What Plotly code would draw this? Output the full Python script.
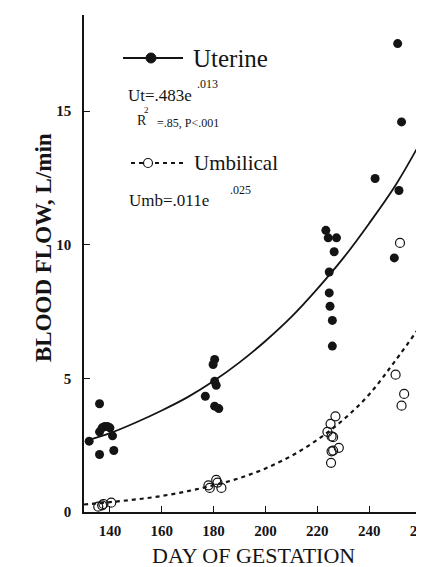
import plotly.graph_objects as go

# ---- data ----
ut_day = [132, 136, 136, 137, 138, 139, 140, 141, 136, 141.5,
          180.4, 179.8, 180.4, 181, 176.8, 180.4, 182,
          223.3, 224.2, 227.4, 226.5, 224.6, 224.6, 224.9, 225.8, 225.8,
          242.3, 251.5, 249.7, 251, 252.5]
ut_flow = [2.65, 4.05, 3.0, 3.15, 3.2, 3.2, 3.15, 2.85, 2.15, 2.3,
           5.71, 5.52, 4.89, 4.74, 4.33, 3.96, 3.87,
           10.54, 10.26, 10.26, 9.74, 8.98, 8.2, 7.7, 7.17, 6.21,
           12.48, 12.03, 9.51, 17.53, 14.6]

umb_day = [135.5, 137, 137.5, 140.5,
           181, 178, 181.5, 183, 178.5,
           227, 225.1, 223.9, 225.5, 226.1, 228.3, 225.5, 226.1, 225.3,
           250.2, 253.5, 252.5, 251.9]
umb_flow = [0.2, 0.25, 0.3, 0.35,
            1.2, 1.0, 1.1, 0.9, 0.9,
            3.58, 3.3, 3.0, 2.83, 2.8, 2.4, 2.27, 2.3, 1.84,
            5.14, 4.42, 3.98, 10.07]

ut_fit_day = [132, 140, 150, 160, 170, 180, 190, 200, 210, 220, 230, 240, 250, 259]
ut_fit_flow = [2.7, 2.95, 3.35, 3.8, 4.3, 4.9, 5.6, 6.4, 7.3, 8.35, 9.5, 10.8, 12.2, 13.7]

umb_fit_day = [130, 140, 150, 160, 170, 180, 190, 200, 210, 220, 230, 240, 250, 260]
umb_fit_flow = [0.28, 0.37, 0.47, 0.6, 0.78, 1.0, 1.27, 1.63, 2.1, 2.7, 3.45, 4.4, 5.65, 7.0]

x_ticks = [140, 160, 180, 200, 220, 240, 260]
y_ticks = [0, 5, 10, 15]

INK = "#141414"
SERIF = "Liberation Serif, Times New Roman, DejaVu Serif, serif"

fig = go.Figure()
fig.add_trace(go.Scatter(x=umb_fit_day, y=umb_fit_flow, mode="lines", line_shape="spline",
                         line=dict(color=INK, width=2.2, dash="4px,4px"), hoverinfo="skip"))
fig.add_trace(go.Scatter(x=ut_fit_day, y=ut_fit_flow, mode="lines", line_shape="spline",
                         line=dict(color=INK, width=1.8), hoverinfo="skip"))
fig.add_trace(go.Scatter(x=umb_day, y=umb_flow, mode="markers", name="Umbilical",
                         marker=dict(symbol="circle-open", size=9, color=INK, line=dict(width=1.2))))
fig.add_trace(go.Scatter(x=ut_day, y=ut_flow, mode="markers", name="Uterine",
                         marker=dict(symbol="circle", size=9, color=INK)))

L, R, T, B = 76, 11, 7, 63
W, H = 424, 567
PW, PH = W - L - R, H - T - B


def px(x):
    return (x - L) / PW


def py(y):
    return (H - B - y) / PH


shapes = [
    dict(type="line", xref="paper", yref="paper", x0=px(115), x1=px(175), y0=py(50), y1=py(50),
         line=dict(color=INK, width=1.8)),
    dict(type="circle", xref="paper", yref="paper", x0=px(138), x1=px(148), y0=py(45), y1=py(55),
         fillcolor=INK, line=dict(color=INK, width=1)),
    dict(type="line", xref="paper", yref="paper", x0=px(123), x1=px(176), y0=py(155), y1=py(155),
         line=dict(color=INK, width=2, dash="4px,4px")),
    dict(type="circle", xref="paper", yref="paper", x0=px(135.5), x1=px(144.5), y0=py(150.5), y1=py(159.5),
         fillcolor="white", line=dict(color=INK, width=1.2)),
]


def ann(text, x, y, size, **kw):
    d = dict(text=text, xref="paper", yref="paper", x=px(x), y=py(y), xanchor="left", yanchor="middle",
             showarrow=False, borderpad=0, font=dict(family=SERIF, size=size, color=INK))
    d.update(kw)
    return d


annotations = [
    ann("Uterine", 184, 50, 25),
    ann("Ut=.483e", 119, 88, 17),
    ann(".013", 188, 76, 12),
    ann("R", 128, 113, 14),
    ann("2", 135, 102, 9),
    ann("=.85, P<.001", 148, 115, 12),
    ann("Umbilical", 185, 155, 21),
    ann("Umb=.011e", 120, 192, 17),
    ann(".025", 221, 182, 12),
    dict(text="<b>BLOOD FLOW, L/min</b>", xref="paper", yref="paper", x=px(36), y=py(240),
         xanchor="center", yanchor="middle", textangle=-90, showarrow=False,
         font=dict(family=SERIF, size=23, color=INK)),
    dict(text="DAY OF GESTATION", xref="paper", yref="paper", x=px(245), y=py(547),
         xanchor="center", yanchor="middle", showarrow=False,
         font=dict(family=SERIF, size=22, color=INK)),
]

tickfont = dict(family=SERIF, size=15, color=INK, weight="bold")

fig.update_layout(
    width=W, height=H, template="none",
    margin=dict(l=L, r=R, t=T, b=B, autoexpand=False),
    paper_bgcolor="white", plot_bgcolor="white",
    showlegend=False,
    shapes=shapes, annotations=annotations,
    xaxis=dict(range=[130, 260], tickvals=x_ticks, ticks="inside", ticklen=6, tickwidth=1.2,
               tickcolor=INK, showline=True, linecolor=INK, linewidth=1.6, showgrid=False,
               zeroline=False, tickfont=tickfont, automargin=False, ticklabelstandoff=4,
               ticklabeloverflow="allow"),
    yaxis=dict(range=[0, 18.6], tickvals=y_ticks, ticks="inside", ticklen=6, tickwidth=1.2,
               tickcolor=INK, showline=True, linecolor=INK, linewidth=1.6, showgrid=False,
               zeroline=False, tickfont=tickfont, automargin=False, ticklabelstandoff=8,
               ticklabeloverflow="allow"),
)

fig.write_html("out.html")
